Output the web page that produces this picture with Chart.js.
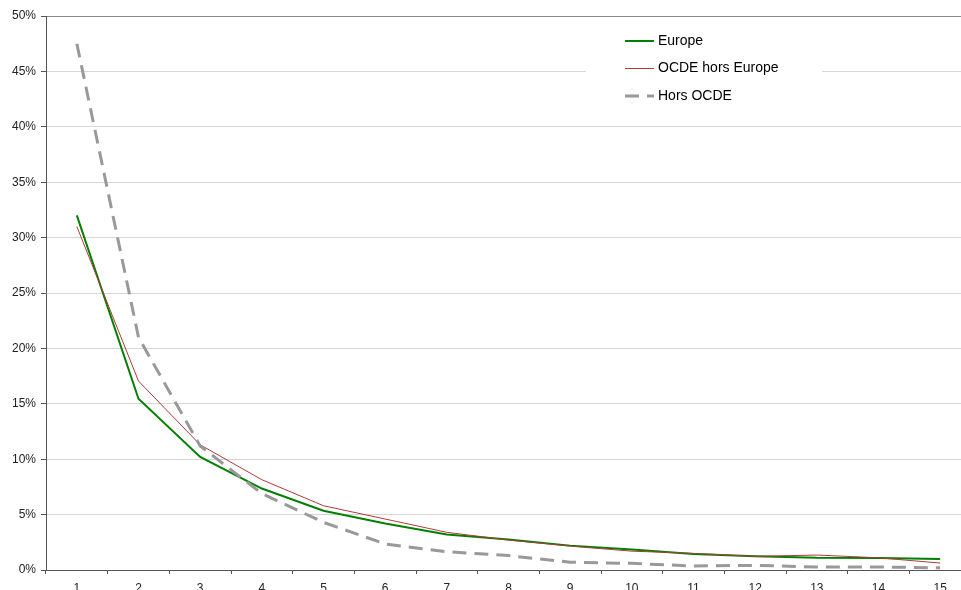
<!DOCTYPE html>
<html>
<head>
<meta charset="utf-8">
<script src="https://cdn.jsdelivr.net/npm/chart.js@4/dist/chart.umd.min.js"></script>
<style>
  html, body { margin: 0; padding: 0; background: #fff; overflow: hidden; }
  #wrap { width: 980px; height: 600px; }
</style>
</head>
<body>
<div id="wrap"><canvas id="chart" width="980" height="600"></canvas></div>
<script>
// categories and series (values in %)
const years = ['1', '2', '3', '4', '5', '6', '7', '8', '9', '10', '11', '12', '13', '14', '15'];
const europe = [32.0, 15.45, 10.2, 7.35, 5.35, 4.2, 3.2, 2.75, 2.2, 1.85, 1.45, 1.25, 1.1, 1.08, 0.99];
const ocdeHorsEurope = [31.0, 17.05, 11.3, 8.15, 5.8, 4.6, 3.4, 2.7, 2.15, 1.7, 1.5, 1.23, 1.35, 1.1, 0.63];
const horsOcde = [47.5, 21.0, 11.2, 6.9, 4.3, 2.35, 1.65, 1.3, 0.7, 0.6, 0.36, 0.42, 0.27, 0.27, 0.2];

const legendItems = [
  { label: 'Europe', color: '#008000', width: 2, dash: [] },
  { label: 'OCDE hors Europe', color: '#b03a3a', width: 1, dash: [] },
  { label: 'Hors OCDE', color: '#999999', width: 3, dash: [14, 8] }
];

// legend box drawn inside the plot, like the original
const boxLegend = {
  id: 'boxLegend',
  afterDraw(chart) {
    const ctx = chart.ctx;
    ctx.save();
    ctx.fillStyle = '#ffffff';
    ctx.fillRect(586, 22, 236, 94);
    ctx.font = '14px "Liberation Sans", Arial, sans-serif';
    ctx.textBaseline = 'middle';
    legendItems.forEach((item, i) => {
      const y = 41 + i * 27.5;
      ctx.beginPath();
      ctx.strokeStyle = item.color;
      ctx.lineWidth = item.width;
      ctx.setLineDash(item.dash);
      ctx.moveTo(625, y);
      ctx.lineTo(654, y);
      ctx.stroke();
      ctx.setLineDash([]);
      ctx.fillStyle = '#000';
      ctx.fillText(item.label, 658, y);
    });
    ctx.restore();
  }
};

new Chart(document.getElementById('chart'), {
  type: 'line',
  data: {
    labels: years,
    datasets: [
      {
        label: 'Hors OCDE',
        data: horsOcde,
        borderColor: '#999999',
        borderWidth: 3,
        borderDash: [14, 8],
        pointRadius: 0,
        tension: 0
      },
      {
        label: 'OCDE hors Europe',
        data: ocdeHorsEurope,
        borderColor: '#b03a3a',
        borderWidth: 1,
        pointRadius: 0,
        tension: 0
      },
      {
        label: 'Europe',
        data: europe,
        borderColor: '#008000',
        borderWidth: 2,
        pointRadius: 0,
        tension: 0
      }
    ]
  },
  options: {
    responsive: false,
    animation: false,
    layout: { padding: { top: 16, right: 9, left: 0, bottom: 5 } },
    plugins: {
      legend: { display: false },
      tooltip: { enabled: false }
    },
    scales: {
      x: {
        type: 'category',
        offset: true,
        grid: {
          offset: true,
          drawOnChartArea: false,
          drawTicks: true,
          tickLength: 4,
          tickColor: '#555'
        },
        border: { color: '#555', width: 1 },
        ticks: {
          color: '#222',
          padding: 7,
          maxRotation: 0,
          font: { family: '"Liberation Sans", Arial, sans-serif', size: 12 }
        },
        afterFit(scale) { scale.height = 25; }
      },
      y: {
        min: 0,
        max: 50,
        grid: {
          color: ctx => (ctx.tick && ctx.tick.value === 50 ? '#888' : '#d6d6d6'),
          tickLength: 5,
          tickColor: '#555'
        },
        border: { color: '#555', width: 1 },
        ticks: {
          stepSize: 5,
          color: '#222',
          padding: 5,
          callback: v => v + '%',
          font: { family: '"Liberation Sans", Arial, sans-serif', size: 12 }
        },
        afterFit(scale) { scale.width = 46; }
      }
    }
  },
  plugins: [boxLegend]
});
</script>
</body>
</html>
